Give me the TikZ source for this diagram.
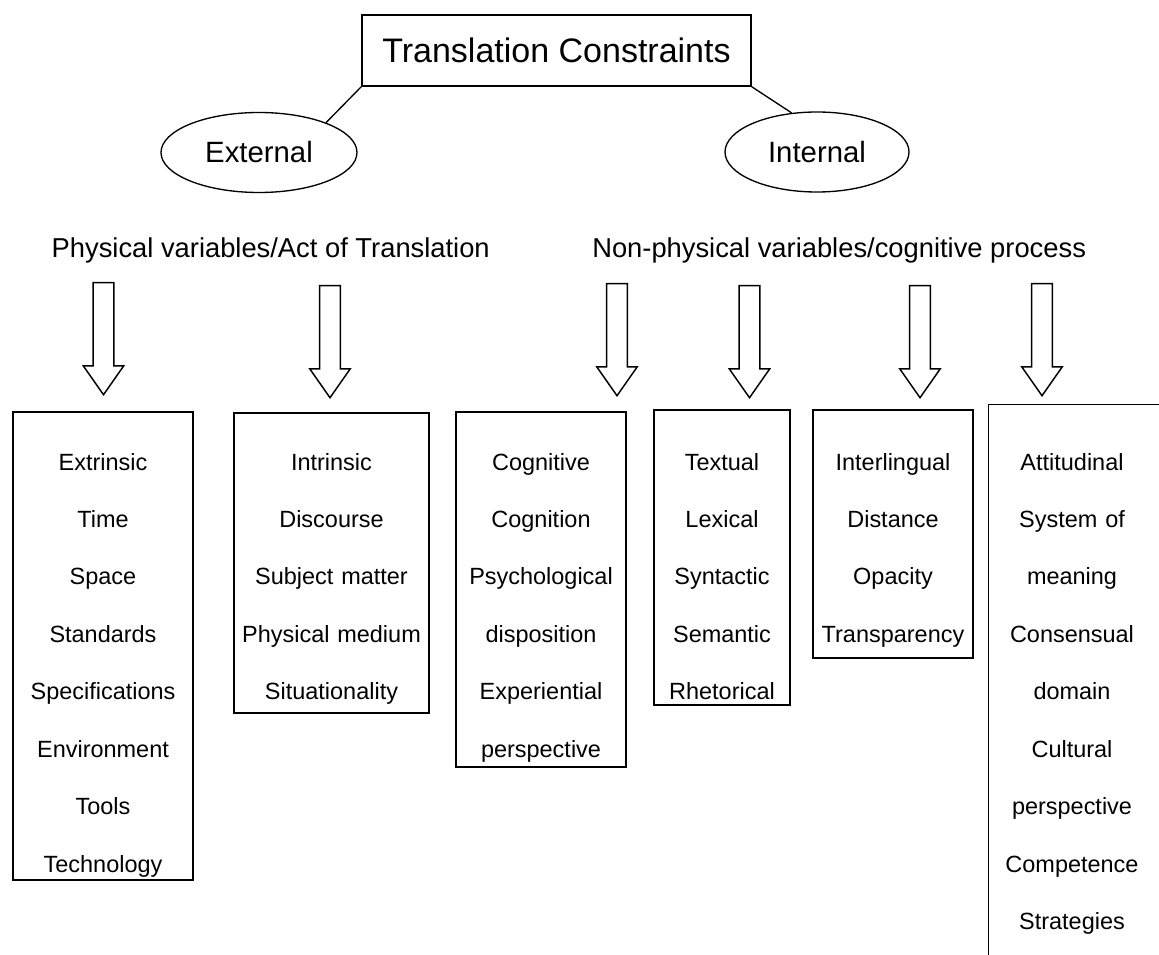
\documentclass[tikz,border=0pt]{standalone}
\usepackage{fontspec}
\setmainfont{Liberation Sans}
\usetikzlibrary{
  positioning,
  shapes.geometric,
  shapes.arrows
}

\tikzset{
  rootbox/.style={draw, line width=1.1pt, rectangle, inner sep=0pt,
    minimum width=291.75pt, minimum height=53.25pt,
    font=\fontsize{25.5}{30}\selectfont},
  sidenode/.style={draw, ellipse, line width=1pt, inner sep=0pt,
    minimum height=60pt, font=\fontsize{22}{26}\selectfont},
  headtext/.style={inner sep=0pt, font=\fontsize{20.5}{24}\selectfont},
  downarrow/.style={draw, single arrow, line width=1.1pt, rotate=-90,
    inner xsep=0pt, inner ysep=7.3pt, minimum height=84pt, minimum width=29.25pt,
    single arrow head extend=7.3pt, single arrow tip angle=70},
  listbox/.style={draw, line width=1.1pt, rectangle, inner sep=0pt,
    align=center, anchor=base, font=\fontsize{17.6}{43.1}\selectfont},
  treeline/.style={line width=1pt}
}

\begin{document}
\begin{tikzpicture}[x=0.75pt, y=-0.75pt]
  \useasboundingbox (0,0) rectangle (1159,955);
  \clip (0,0) rectangle (1159,955);

  % root and the two branches
  \node[rootbox] (root) at (556.5,50.5) {Translation Constraints};
  \node[sidenode, minimum width=147pt] (ext) at (259,152.5) {External};
  \node[sidenode, minimum width=138pt] (int) at (817,152) {Internal};
  \draw[treeline] (root.south west) -- (ext.24);
  \draw[treeline] (root.south east) -- (int.123);

  % variable headings
  \node[headtext, anchor=base east] (phys) at (490,258) {Physical variables/Act of Translation};
  \node[headtext, anchor=base west] (nonphys) at (592,258) {Non-physical variables/cognitive process};

  % block arrows down to the lists
  \node[downarrow, anchor=tail] (arrext) at (103.5,282) {};
  \node[downarrow, anchor=tail] (arrint) at (330,285) {};
  \node[downarrow, anchor=tail] (arrcog) at (617,283) {};
  \node[downarrow, anchor=tail] (arrtext) at (749.5,285) {};
  \node[downarrow, anchor=tail] (arrling) at (920,285) {};
  \node[downarrow, anchor=tail] (arratt) at (1042,283) {};

  % constraint lists
  \node[listbox, text width=135pt, text height=43.5pt, text depth=307.5pt] (extr) at (103,470)
    {Extrinsic\\Time\\Space\\Standards\\Specifications\\Environment\\Tools\\Technology};
  \node[listbox, text width=146.25pt, text height=42.75pt, text depth=182.25pt] (intr) at (331.5,470)
    {Intrinsic\\Discourse\\Subject matter\\Physical medium\\Situationality};
  \node[listbox, text width=127.5pt, text height=43.5pt, text depth=222.75pt] (cogn) at (541,470)
    {Cognitive\\Cognition\\Psychological\\disposition\\Experiential\\perspective};
  \node[listbox, text width=102pt, text height=45pt, text depth=176.25pt] (textl) at (722,470)
    {Textual\\Lexical\\Syntactic\\Semantic\\Rhetorical};
  \node[listbox, text width=120pt, text height=45pt, text depth=141pt] (ling) at (893,470)
    {Interlingual\\Distance\\Opacity\\Transparency};

  % last list runs off the page
  \node[listbox, draw=none, text width=124.5pt, text height=48.75pt, text depth=382.5pt] (attd) at (1072,470)
    {Attitudinal\\System of\\meaning\\Consensual\\domain\\Cultural\\perspective\\Competence\\Strategies};
  \draw[line width=1.1pt] (attd.south west) |- ([xshift=40pt]attd.north east);

\end{tikzpicture}
\end{document}
